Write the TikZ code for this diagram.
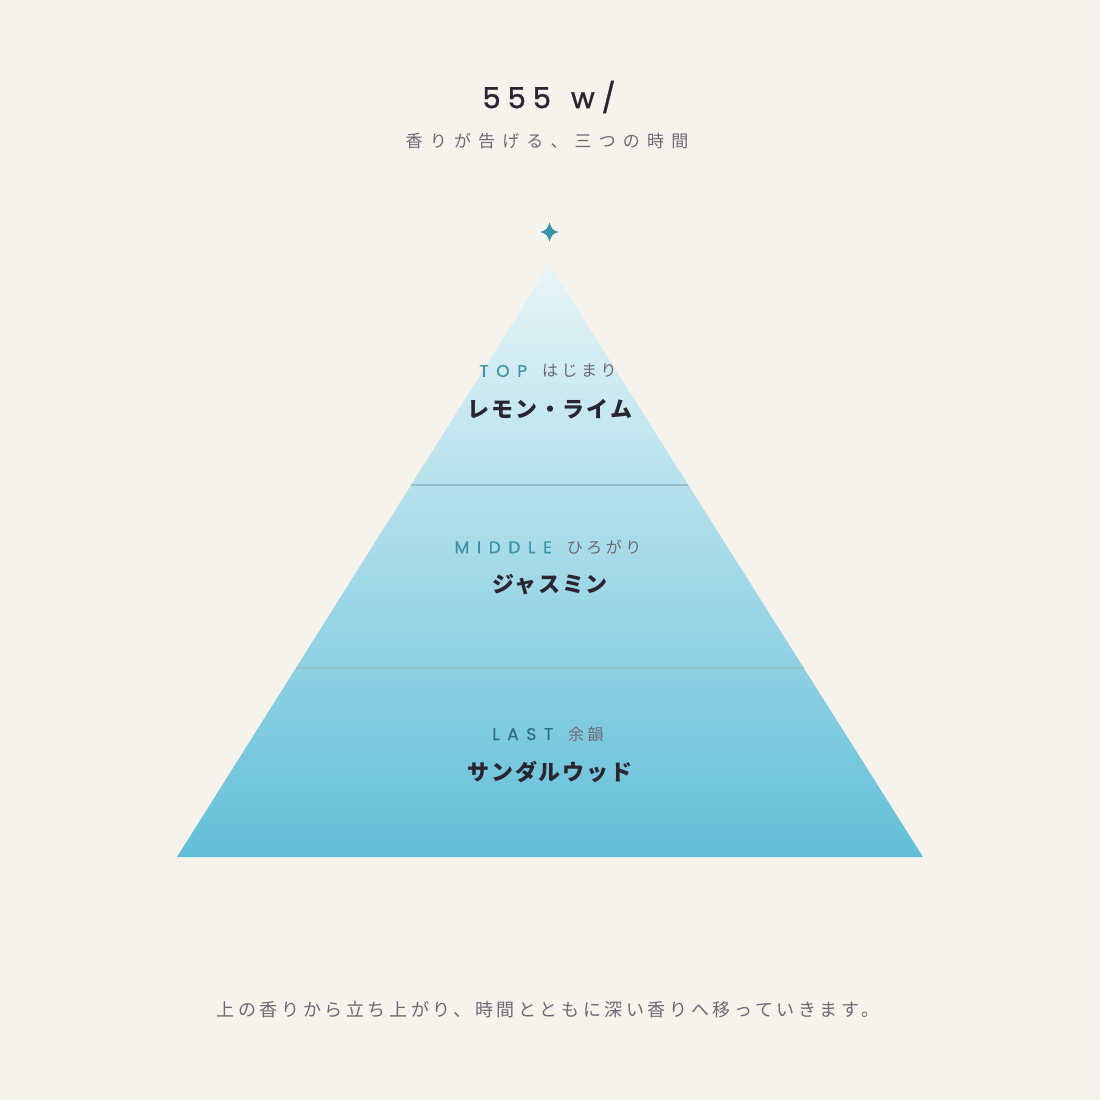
\documentclass[tikz,border=0pt]{standalone}
\usepackage{fontspec}
\usetikzlibrary{calc}
\setmainfont{Noto Sans CJK JP}
\newfontfamily\titlefont[LetterSpace=24, FakeBold=1.2]{Poppins}
\newfontfamily\tagfont[LetterSpace=45, FakeBold=0.5]{Poppins}
\newfontfamily\subfont[LetterSpace=42]{Noto Sans CJK JP}
\newfontfamily\kanafont[LetterSpace=22]{Noto Sans CJK JP}
\newfontfamily\namefont[LetterSpace=8]{Noto Sans CJK JP}
\newfontfamily\notefont[LetterSpace=20]{Noto Sans CJK JP}
\definecolor{cream}{HTML}{F6F3EC}
\definecolor{ink}{HTML}{2A2530}
\definecolor{greyink}{HTML}{6E6872}
\definecolor{teal}{HTML}{3A93A8}
\definecolor{tealdark}{HTML}{2F6E7E}
\definecolor{pyrtop}{HTML}{E8F5F8}
\definecolor{pyrmid}{HTML}{B2E0EB}
\definecolor{pyrbot}{HTML}{62BFD8}
\definecolor{divider}{HTML}{92C0CC}
\begin{document}
\begin{tikzpicture}[x=1pt, y=-1pt,
    every node/.style={inner sep=0pt},
    scent/.style={font=\namefont\bfseries\fontsize{22}{22}\selectfont, text=ink}]
    \fill[cream] (0,0) rectangle (1100,1100);
    \useasboundingbox (0,0) rectangle (1100,1100);

    % Pyramid
    \coordinate (apex) at (549.5,265);
    \coordinate (bl) at (177,857);
    \coordinate (br) at (923,857);
    \shade[top color=pyrtop, middle color=pyrmid, bottom color=pyrbot]
        (apex) -- (br) -- (bl) -- cycle;

    % Dividers
    \draw[divider, line width=1.2pt] ($(apex)!0.3716!(bl)$) -- ($(apex)!0.3716!(br)$);
    \draw[divider, line width=1.2pt] ($(apex)!0.6807!(bl)$) -- ($(apex)!0.6807!(br)$);

    % Star
    \coordinate (star) at (549.5,232);
    \fill[teal] ($(star)+(0,-9.5)$) .. controls ($(star)+(2.5,-2.5)$) .. ($(star)+(9,0)$)
        .. controls ($(star)+(2.5,2.5)$) .. ($(star)+(0,9.5)$)
        .. controls ($(star)+(-2.5,2.5)$) .. ($(star)+(-9,0)$)
        .. controls ($(star)+(-2.5,-2.5)$) .. cycle;

    % Heading
    \node[font=\titlefont\fontsize{29}{29}\selectfont, text=ink] (title) at (549,97)
        {555\hspace*{20pt}w/};
    \node[font=\subfont\fontsize{17}{17}\selectfont, text=greyink] (subtitle) at (547,141)
        {香りが告げる、三つの時間};

    % Layers
    \node (toptag) at (548,371) {\tagfont\fontsize{17}{17}\selectfont
        \textcolor{teal}{TOP}\hspace*{15pt}{\kanafont\fontsize{16}{16}\selectfont\color{greyink}はじまり}};
    \node[scent] (top) at (550,409) {レモン・ライム};
    \node (middletag) at (548,547) {\tagfont\fontsize{17}{17}\selectfont
        \textcolor{teal}{MIDDLE}\hspace*{15pt}{\kanafont\fontsize{16}{16}\selectfont\color{greyink}ひろがり}};
    \node[scent] (middle) at (550,585) {ジャスミン};
    \node (lasttag) at (548,734) {\tagfont\fontsize{17}{17}\selectfont
        \textcolor{tealdark}{LAST}\hspace*{15pt}{\kanafont\fontsize{16}{16}\selectfont\color{greyink}余韻}};
    \node[scent] (last) at (550,772) {サンダルウッド};

    % Note
    \node[font=\notefont\fontsize{18}{18}\selectfont, text=greyink] (note) at (548,1010)
        {上の香りから立ち上がり、時間とともに深い香りへ移っていきます。};
\end{tikzpicture}
\end{document}
